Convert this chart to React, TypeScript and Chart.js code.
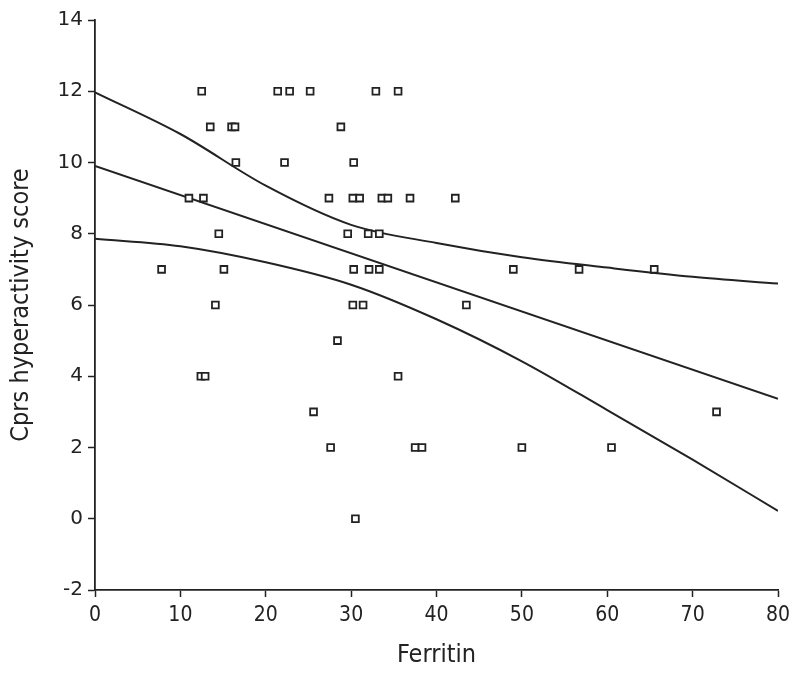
import React, { useEffect, useRef } from "react";
import { Chart, registerables } from "chart.js";

Chart.register(...registerables);

const ferritin = [
  12.5, 21.4, 22.8, 25.2, 32.9, 35.5,
  13.5, 16.0, 16.4, 28.8,
  16.5, 22.2, 30.3,
  11.0, 12.7, 27.4, 30.2, 31.0, 33.6, 34.3, 36.9, 42.2,
  14.5, 29.6, 32.0, 33.3,
  7.8, 15.1, 30.3, 32.1, 33.3, 49.0, 56.7, 65.5,
  14.1, 30.2, 31.4, 43.5,
  28.4,
  12.4, 12.9, 35.5,
  25.6, 72.8,
  27.6, 37.5, 38.3, 50.0, 60.5,
  30.5,
];
const cprs = [
  12, 12, 12, 12, 12, 12,
  11, 11, 11, 11,
  10, 10, 10,
  9, 9, 9, 9, 9, 9, 9, 9, 9,
  8, 8, 8, 8,
  7, 7, 7, 7, 7, 7, 7, 7,
  6, 6, 6, 6,
  5,
  4, 4, 4,
  3, 3,
  2, 2, 2, 2, 2,
  0,
];

const fitX = [0, 80];
const fitY = [9.9, 3.37];

const bandX = [0, 10, 20, 30, 40, 50, 60, 70, 80];
const upperBand = [11.97, 10.8, 9.35, 8.25, 7.74, 7.34, 7.05, 6.79, 6.6];
const lowerBand = [7.86, 7.65, 7.2, 6.57, 5.6, 4.42, 3.05, 1.66, 0.22];

const xTicks = [0, 10, 20, 30, 40, 50, 60, 70, 80];
const yTicks = [-2, 0, 2, 4, 6, 8, 10, 12, 14];

const INK = "#222222";
const NARROW = "'Liberation Sans Narrow', 'DejaVu Sans Condensed', 'Liberation Sans', sans-serif";

export default function App() {
  const ref = useRef<HTMLCanvasElement | null>(null);

  useEffect(() => {
    document.body.style.margin = "0";
    const canvas = ref.current;
    if (!canvas) return;
    const pts = ferritin.map((x, i) => ({ x, y: cprs[i] }));
    const line = (xs: number[], ys: number[]) => xs.map((x, i) => ({ x, y: ys[i] }));
    const lineDs = (data: { x: number; y: number }[]) => ({
      data,
      showLine: true,
      borderColor: INK,
      borderWidth: 2,
      pointRadius: 0,
      pointHoverRadius: 0,
      tension: 0.4,
      cubicInterpolationMode: "monotone" as const,
      fill: false,
    });
    const chart = new Chart(canvas, {
      type: "scatter",
      data: {
        datasets: [
          {
            data: pts,
            pointStyle: "rect",
            pointRadius: 4.8,
            pointBorderWidth: 1.8,
            pointBorderColor: INK,
            pointBackgroundColor: "#ffffff",
            showLine: false,
          },
          lineDs(line(fitX, fitY)),
          lineDs(line(bandX, upperBand)),
          lineDs(line(bandX, lowerBand)),
        ],
      },
      options: {
        animation: false,
        responsive: false,
        devicePixelRatio: 1,
        layout: { padding: { top: 20, right: 22, left: 0, bottom: 0 } },
        plugins: { legend: { display: false }, tooltip: { enabled: false } },
        scales: {
          x: {
            type: "linear",
            min: 0,
            max: 80,
            afterBuildTicks: (s: any) => {
              s.ticks = xTicks.map((v) => ({ value: v }));
            },
            afterFit: (s: any) => {
              s.height = 84;
            },
            grid: {
              drawOnChartArea: false,
              drawTicks: true,
              tickLength: 7,
              tickColor: INK,
              tickWidth: 1.5,
            },
            border: { display: true, color: INK, width: 1.8 },
            ticks: {
              color: INK,
              font: { family: NARROW, size: 21 },
              padding: 6,
              maxRotation: 0,
            },
            title: {
              display: true,
              text: "Ferritin",
              color: INK,
              font: { family: NARROW, size: 25 },
              padding: { top: 0, bottom: 4 },
            },
          },
          y: {
            type: "linear",
            min: -2,
            max: 14,
            afterBuildTicks: (s: any) => {
              s.ticks = yTicks.map((v) => ({ value: v }));
            },
            afterFit: (s: any) => {
              s.width = 95;
            },
            grid: {
              drawOnChartArea: false,
              drawTicks: true,
              tickLength: 7,
              tickColor: INK,
              tickWidth: 1.5,
            },
            border: { display: true, color: INK, width: 1.8 },
            ticks: {
              color: INK,
              font: { family: "'DejaVu Sans', sans-serif", size: 20 },
              padding: 5,
            },
            title: {
              display: true,
              text: "Cprs hyperactivity score",
              color: INK,
              font: { family: NARROW, size: 25 },
              padding: { top: 6, bottom: 0 },
            },
          },
        },
      },
    });
    return () => chart.destroy();
  }, []);

  return <canvas ref={ref} width={800} height={674} style={{ display: "block" }} />;
}
